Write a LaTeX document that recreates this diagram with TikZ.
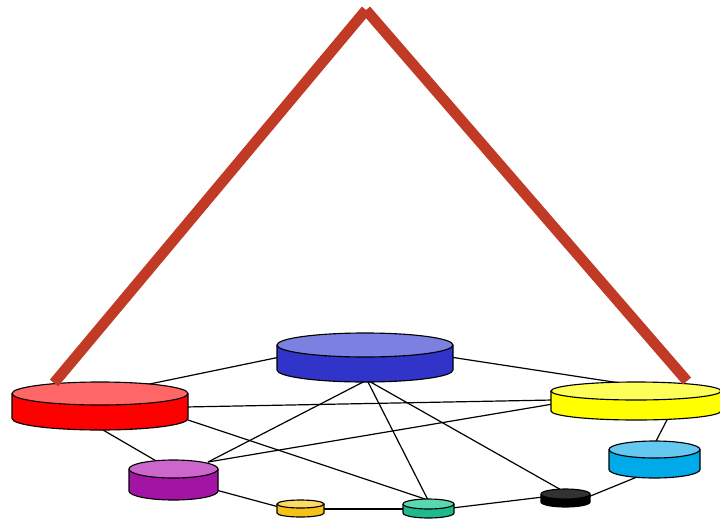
\documentclass[tikz,border=0pt]{standalone}
\usetikzlibrary{calc}
\definecolor{tri}{RGB}{192,58,38}
\definecolor{redtop}{RGB}{255,102,102}\definecolor{redside}{RGB}{255,0,0}
\definecolor{bluetop}{RGB}{124,128,224}\definecolor{blueside}{RGB}{48,52,200}
\definecolor{yeltop}{RGB}{255,255,90}\definecolor{yelside}{RGB}{255,255,0}
\definecolor{cyantop}{RGB}{100,200,240}\definecolor{cyanside}{RGB}{0,170,232}
\definecolor{purtop}{RGB}{204,102,204}\definecolor{purside}{RGB}{164,20,164}
\definecolor{goldtop}{RGB}{255,217,102}\definecolor{goldside}{RGB}{245,195,24}
\definecolor{tealtop}{RGB}{90,215,175}\definecolor{tealside}{RGB}{30,185,140}
\definecolor{blktop}{RGB}{50,50,50}\definecolor{blkside}{RGB}{0,0,0}
\tikzset{
  link/.style={draw=black, line width=0.9pt},
  outline/.style={draw=black, line width=0.85pt},
  roof/.style={draw=tri, line width=8pt, line cap=butt}
}
% \mycyl{name}{cx}{topcy}{rx}{ry}{h}{topcolor}{sidecolor}
\newcommand\mycyl[8]{%
  \fill[#8] (#2-#4,-#3) -- (#2-#4,-#3-#6)
     arc[start angle=180,end angle=360,x radius=#4,y radius=#5] -- (#2+#4,-#3) -- cycle;
  \draw[outline] (#2-#4,-#3) -- (#2-#4,-#3-#6)
     arc[start angle=180,end angle=360,x radius=#4,y radius=#5] -- (#2+#4,-#3);
  \filldraw[outline, fill=#7] (#2,-#3) ellipse[x radius=#4, y radius=#5];
  \coordinate (#1) at (#2,-#3);
}
\begin{document}
\begin{tikzpicture}[x=0.75pt,y=0.75pt]
\useasboundingbox (0,0) rectangle (720,-521);
% connection points
\coordinate (rA) at (140,-386);
\coordinate (rB) at (185,-407);
\coordinate (rC) at (185,-419);
\coordinate (rD) at (103,-430);
\coordinate (bA) at (280,-357);
\coordinate (bB) at (367,-380);
\coordinate (bC) at (450,-357);
\coordinate (yA) at (553,-400);
\coordinate (yB) at (553,-404);
\coordinate (yC) at (633,-385);
\coordinate (yD) at (668,-418);
\coordinate (pA) at (158,-462);
\coordinate (pB) at (208,-462);
\coordinate (pC) at (216,-490);
\coordinate (gA) at (279,-507);
\coordinate (gB) at (322,-509);
\coordinate (tA) at (405,-509);
\coordinate (tB) at (428,-500);
\coordinate (tC) at (452,-508);
\coordinate (kA) at (563,-491);
\coordinate (kB) at (543,-497);
\coordinate (kC) at (588,-497);
\coordinate (cA) at (655,-443);
\coordinate (cB) at (637,-477);
% edges
\draw[link] (rA) -- (bA);
\draw[link] (rB) -- (yA);
\draw[link] (rC) -- (tB);
\draw[link] (rD) -- (pA);
\draw[link] (pB) -- (bB);
\draw[link] (pB) -- (yB);
\draw[link] (pC) -- (gA);
\draw[link] (gB) -- (tA);
\draw[link] (bC) -- (yC);
\draw[link] (bB) -- (tB);
\draw[link] (bB) -- (kA);
\draw[link] (tC) -- (kB);
\draw[link] (kC) -- (cB);
\draw[link] (yD) -- (cA);
% cylinders
\mycyl{red}{100}{393.5}{88}{11.5}{25}{redtop}{redside}
\mycyl{blue}{365}{345}{88}{12}{25}{bluetop}{blueside}
\mycyl{yellow}{636}{391}{85}{9}{20}{yeltop}{yelside}
\mycyl{cyan}{654.5}{449.5}{45.5}{8.5}{20}{cyantop}{cyanside}
\mycyl{purple}{173.5}{469}{44.5}{9}{22}{purtop}{purside}
\mycyl{gold}{300.5}{504}{23.5}{4}{9}{goldtop}{goldside}
\mycyl{teal}{428.5}{504}{25.5}{5}{9}{tealtop}{tealside}
\mycyl{black}{565.5}{494}{24.5}{5}{8}{blktop}{blkside}
% roof
\coordinate (apex) at (366,-10);
\coordinate (roofL) at (54,-383);
\coordinate (roofR) at (687,-381);
\draw[roof] (roofL) -- (apex);
\draw[roof] (apex) -- (roofR);
\end{tikzpicture}
\end{document}
